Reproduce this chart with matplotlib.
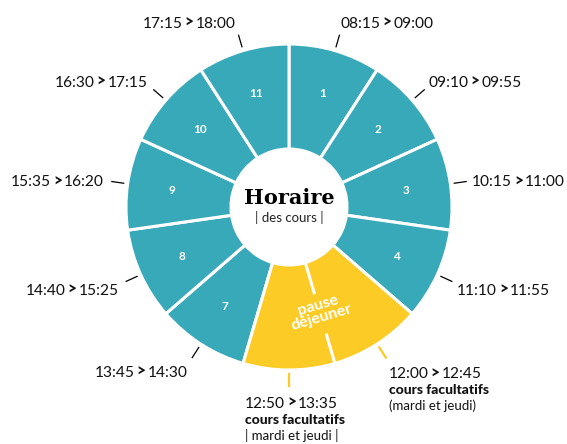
import numpy as np
import matplotlib.pyplot as plt
from matplotlib.patches import Wedge, Circle
from matplotlib.offsetbox import TextArea, HPacker, VPacker, AnnotationBbox


# =====================================================
# DATA
# =====================================================

SLOT_NUMBERS = ["1", "2", "3", "4", "", "", "7", "8", "9", "10", "11"]

START_TIMES = [
    "08:15", "09:10", "10:15", "11:10", "12:00", "12:50",
    "13:45", "14:40", "15:35", "16:30", "17:15"
]

END_TIMES = [
    "09:00", "09:55", "11:00", "11:55", "12:45", "13:35",
    "14:30", "15:25", "16:20", "17:15", "18:00"
]

LUNCH_SLOTS = [4, 5]
LUNCH_LABEL = "pause\ndéjeuner"

OPTIONAL_TITLE = "cours facultatifs"
OPTIONAL_NOTES = {4: "(mardi et jeudi)", 5: "| mardi et jeudi |"}

TITLE = "Horaire"
SUBTITLE = "| des cours |"


# =====================================================
# STYLE
# =====================================================

TEAL = "#38A9B8"
YELLOW = "#FDCB25"
FONT = "Lato"
INK = "#111111"
TIME_SIZE = 11.2

W, H = 567, 444
CX, CY = 289, H - 207
R_OUT = 163
R_IN = 58

n = len(START_TIMES)
step = 360 / n

fig = plt.figure(figsize=(W / 100, H / 100), dpi=100)
ax = fig.add_axes([0, 0, 1, 1])
ax.set_xlim(0, W)
ax.set_ylim(0, H)
ax.set_aspect("equal")
ax.axis("off")


def polar(r, phi):
    # phi: degrees clockwise from top
    a = np.radians(phi)
    return CX + r * np.sin(a), CY + r * np.cos(a)


# -----------------------------
# RING
# -----------------------------
for k in range(n):
    if k in LUNCH_SLOTS:
        continue
    ax.add_patch(Wedge(
        (CX, CY), R_OUT,
        90 - (k + 1) * step, 90 - k * step,
        width=R_OUT - R_IN,
        facecolor=TEAL, edgecolor="white", linewidth=2.2
    ))

    x, y = polar(118, (k + 0.5) * step)
    ax.text(x, y, SLOT_NUMBERS[k], color="white", fontsize=8.5,
            fontweight="bold", family=FONT, ha="center", va="center")

lunch_start = min(LUNCH_SLOTS) * step
lunch_end = (max(LUNCH_SLOTS) + 1) * step

ax.add_patch(Wedge(
    (CX, CY), R_OUT,
    90 - lunch_end, 90 - lunch_start,
    width=R_OUT - R_IN,
    facecolor=YELLOW, edgecolor="white", linewidth=2.2
))

# partial divider inside the lunch block
mid_phi = (lunch_start + lunch_end) / 2
for r1, r2 in [(R_IN, 91), (132, R_OUT)]:
    x1, y1 = polar(r1, mid_phi)
    x2, y2 = polar(r2, mid_phi)
    ax.plot([x1, x2], [y1, y2], color="white", linewidth=2.2,
            solid_capstyle="butt")

x, y = polar(109, mid_phi)
ax.text(x, y, LUNCH_LABEL, color="white", fontsize=11.5,
        fontweight="bold", family=FONT, ha="center", va="center",
        rotation=180 - mid_phi, linespacing=0.9)

# -----------------------------
# CENTRE
# -----------------------------
ax.add_patch(Circle((CX, CY), R_IN, facecolor="white", edgecolor="none"))

ax.text(CX, CY + 9, TITLE, fontsize=15, fontweight="bold",
        family="DejaVu Serif", ha="center", va="center", color="black")
ax.text(CX, CY - 11, SUBTITLE, fontsize=9.5, family=FONT,
        ha="center", va="center", color="#222222")

# -----------------------------
# LEADERS + TIME LABELS
# -----------------------------
for k in range(n):
    phi = (k + 0.5) * step
    lunch = k in LUNCH_SLOTS

    x1, y1 = polar(167, phi)
    x2, y2 = polar(179, phi)
    ax.plot([x1, x2], [y1, y2],
            color=YELLOW if lunch else "black",
            linewidth=1.6 if lunch else 0.9)

    s, c = np.sin(np.radians(phi)), np.cos(np.radians(phi))

    time_box = HPacker(children=[
        TextArea(START_TIMES[k], textprops=dict(fontsize=TIME_SIZE,
                                                 family=FONT, color=INK)),
        TextArea(">", textprops=dict(fontsize=TIME_SIZE, family=FONT,
                                     fontweight="black", color=INK)),
        TextArea(END_TIMES[k], textprops=dict(fontsize=TIME_SIZE,
                                              family=FONT, color=INK)),
    ], align="baseline", pad=0, sep=1.5)

    if k in OPTIONAL_NOTES:
        box = VPacker(children=[
            time_box,
            TextArea(OPTIONAL_TITLE, textprops=dict(
                fontsize=10, family=FONT, fontweight="black", color=INK)),
            TextArea(OPTIONAL_NOTES[k], textprops=dict(
                fontsize=9.5, family=FONT, color=INK)),
        ], align="left", pad=0, sep=2)
        ya = 1.0
    else:
        box = time_box
        ya = 0.5 - 0.5 * c

    if s > 0.1:
        xa, dx = 0.0, -1
    elif s < -0.1:
        xa, dx = 1.0, -1
    else:
        xa, dx = 0.5, 6

    ax_, ay_ = polar(186, phi)
    ab = AnnotationBbox(box, (ax_ + dx, ay_ - 2), xycoords="data",
                        box_alignment=(xa, ya), frameon=False, pad=0)
    ax.add_artist(ab)

fig.savefig("out.png", dpi=100, facecolor="white")
